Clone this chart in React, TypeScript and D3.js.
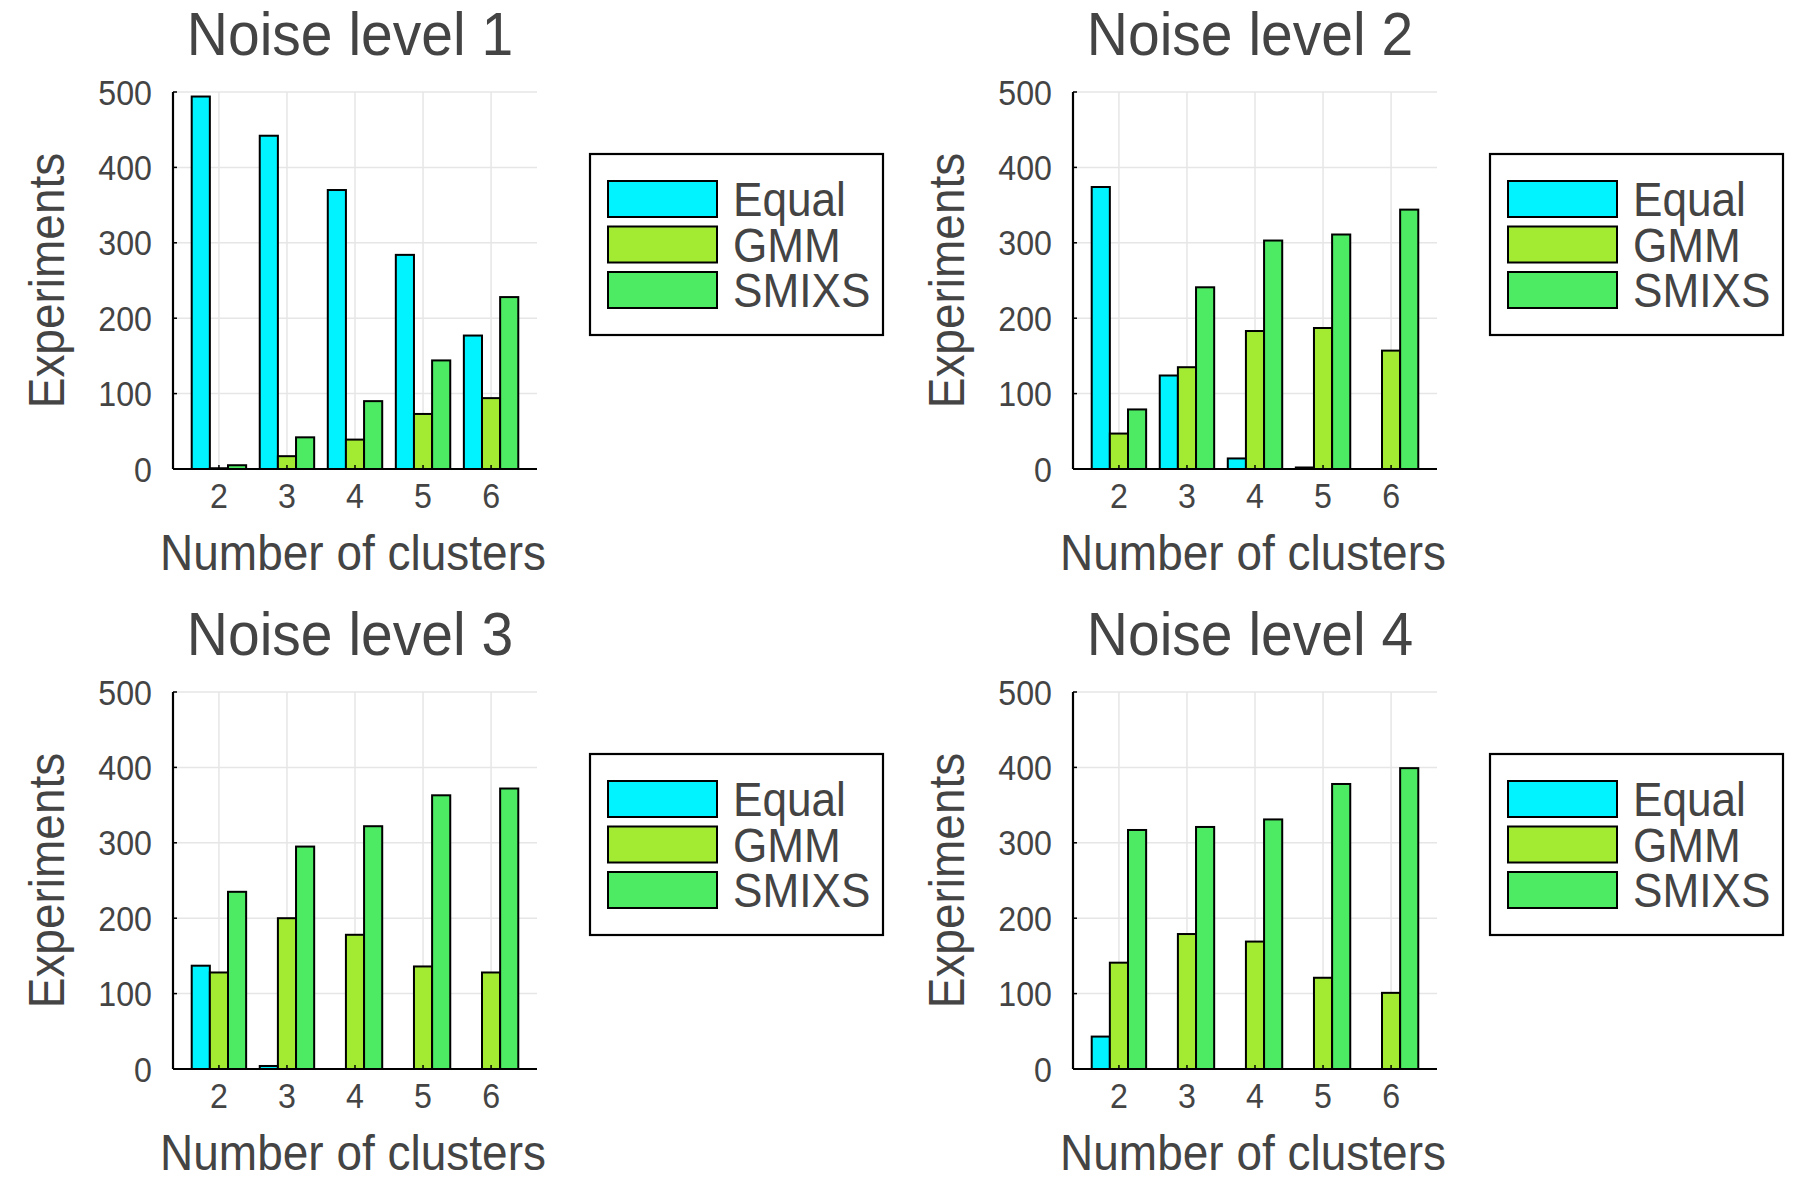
import React from 'react';
import * as d3 from 'd3';

const clusters = [2, 3, 4, 5, 6];
const seriesNames = ['Equal', 'GMM', 'SMIXS'];
const seriesColors = ['#00F3FF', '#A3EB33', '#4DEB63'];
const panelTitles = ['Noise level 1', 'Noise level 2', 'Noise level 3', 'Noise level 4'];
const yTicks = [0, 100, 200, 300, 400, 500];

// counts per noise level: [Equal, GMM, SMIXS] over clusters 2..6
const noise1 = [
  [494, 442, 370, 284, 177],
  [1, 17, 39, 73, 94],
  [5, 42, 90, 144, 228],
];
const noise2 = [
  [374, 124, 14, 2, 0],
  [47, 135, 183, 187, 157],
  [79, 241, 303, 311, 344],
];
const noise3 = [
  [137, 4, 0, 0, 0],
  [128, 200, 178, 136, 128],
  [235, 295, 322, 363, 372],
];
const noise4 = [
  [43, 0, 0, 0, 0],
  [141, 179, 169, 121, 101],
  [317, 321, 331, 378, 399],
];
const panels = [noise1, noise2, noise3, noise4];

const W = 1800;
const H = 1200;
const cellW = 900;
const cellH = 600;
const plot = { left: 173, right: 537, top: 92, bottom: 469 };
const textColor = '#444444';
const squeeze = 0.92;
const font = '"Liberation Sans", Arial, Helvetica, sans-serif';

const Txt: React.FC<{
  x: number; y: number; size: number; anchor?: string; rotate?: number; children: React.ReactNode;
}> = ({ x, y, size, anchor = 'start', rotate = 0, children }) => (
  <text
    transform={`translate(${x},${y}) rotate(${rotate}) scale(${squeeze},1)`}
    fontSize={size}
    fontFamily={font}
    fill={textColor}
    textAnchor={anchor}
  >
    {children}
  </text>
);

const Panel: React.FC<{ data: number[][]; title: string; ox: number; oy: number }> = ({ data, title, ox, oy }) => {
  const x = d3.scaleLinear().domain([1.325, 6.675]).range([plot.left, plot.right]);
  const y = d3.scaleLinear().domain([0, 500]).range([plot.bottom, plot.top]);
  const bw = 0.8 / seriesNames.length;

  return (
    <g transform={`translate(${ox},${oy})`}>
      {/* grid */}
      {yTicks.filter(t => t > 0).map(t => (
        <line key={'gy' + t} x1={plot.left} x2={plot.right} y1={y(t)} y2={y(t)} stroke="#e6e6e6" strokeWidth={1.5} />
      ))}
      {clusters.map(c => (
        <line key={'gx' + c} x1={x(c)} x2={x(c)} y1={plot.top} y2={plot.bottom} stroke="#e6e6e6" strokeWidth={1.5} />
      ))}

      {/* bars */}
      {data.map((vals, si) =>
        vals.map((v, ci) => {
          if (v <= 0) return null;
          const x0 = x(clusters[ci] - 0.4 + si * bw);
          const x1 = x(clusters[ci] - 0.4 + (si + 1) * bw);
          return (
            <rect
              key={si + '-' + ci}
              x={x0}
              y={y(v)}
              width={x1 - x0}
              height={y(0) - y(v)}
              fill={seriesColors[si]}
              stroke="#000"
              strokeWidth={2}
            />
          );
        })
      )}

      {/* axes */}
      <line x1={plot.left} x2={plot.left} y1={plot.top} y2={plot.bottom} stroke="#000" strokeWidth={2.2} />
      <line x1={plot.left} x2={plot.right} y1={plot.bottom} y2={plot.bottom} stroke="#000" strokeWidth={2.2} />
      {yTicks.map(t => (
        <g key={'ty' + t}>
          <line x1={plot.left} x2={plot.left + 4} y1={y(t)} y2={y(t)} stroke="#000" strokeWidth={1.5} />
          <Txt x={plot.left - 21} y={y(t) + 12.5} size={35} anchor="end">{t}</Txt>
        </g>
      ))}
      {clusters.map(c => (
        <g key={'tx' + c}>
          <line x1={x(c)} x2={x(c)} y1={plot.bottom} y2={plot.bottom - 4} stroke="#000" strokeWidth={1.5} />
          <Txt x={x(c)} y={508} size={35} anchor="middle">{c}</Txt>
        </g>
      ))}

      {/* labels */}
      <Txt x={350} y={55} size={62} anchor="middle">{title}</Txt>
      <Txt x={353} y={570} size={50} anchor="middle">Number of clusters</Txt>
      <Txt x={64} y={(plot.top + plot.bottom) / 2} size={50} anchor="middle" rotate={-90}>Experiments</Txt>

      {/* legend */}
      <rect x={590} y={154} width={293} height={181} fill="#fff" stroke="#000" strokeWidth={2.2} />
      {seriesNames.map((name, i) => (
        <g key={name}>
          <rect x={608} y={181 + i * 45.5} width={109} height={36} fill={seriesColors[i]} stroke="#000" strokeWidth={2} />
          <Txt x={733} y={216 + i * 45.5} size={48}>{name}</Txt>
        </g>
      ))}
    </g>
  );
};

export default function App() {
  return (
    <svg
      width={W}
      height={H}
      viewBox={`0 0 ${W} ${H}`}
      style={{ position: 'absolute', left: 0, top: 0, background: '#fff' }}
    >
      <rect width={W} height={H} fill="#fff" />
      {panels.map((p, i) => (
        <Panel key={i} data={p} title={panelTitles[i]} ox={(i % 2) * cellW} oy={Math.floor(i / 2) * cellH} />
      ))}
    </svg>
  );
}
